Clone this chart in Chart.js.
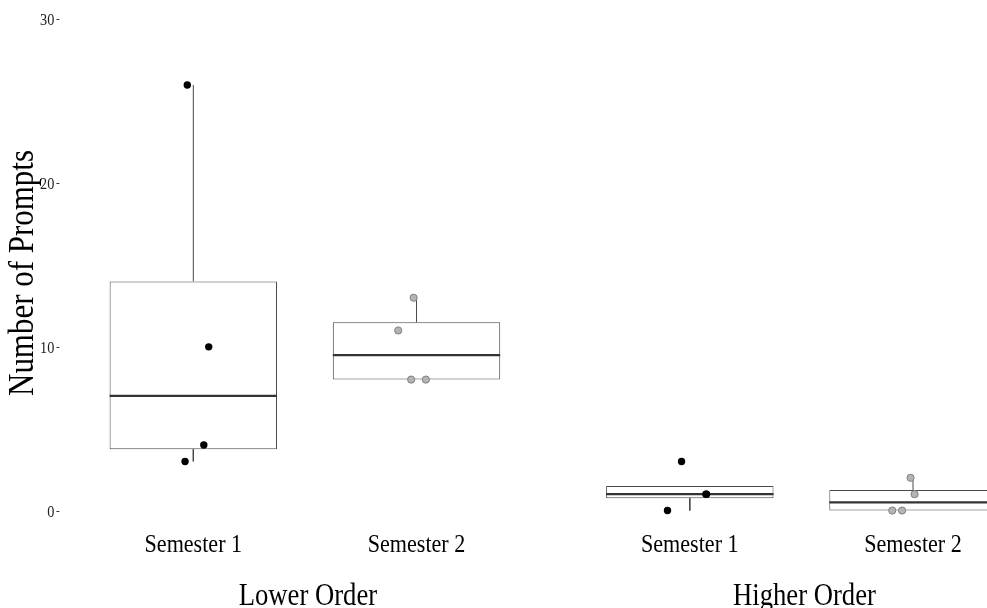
<!DOCTYPE html>
<html>
<head>
<meta charset="utf-8">
<script src="https://cdn.jsdelivr.net/npm/chart.js@4.4.1/dist/chart.umd.min.js"></script>
<style>
  html, body { margin: 0; padding: 0; background: #ffffff; overflow: hidden; }
  canvas { display: block; }
</style>
</head>
<body>
<canvas id="chart" width="987" height="608"></canvas>
<script>
// ---- data ----
const groups = ['Lower Order', 'Higher Order'];
const semesters = ['Semester 1', 'Semester 2'];
// box positions on the x axis (category units; the second panel follows a small gap)
const positions = [1, 2, 3.2245, 4.2245];
const boxGroup = [0, 0, 1, 1];
const boxSemester = [0, 1, 0, 1];

// observed prompt counts per box
const lowerSem1 = [26, 10, 4, 3];
const lowerSem2 = [13, 11, 8, 8];
const higherSem1 = [3, 1, 1, 0];
const higherSem2 = [2, 1, 0, 0];

// horizontal jitter of each observation (category units)
const lowerSem1Jitter = [-0.027, 0.069, 0.047, -0.037];
const lowerSem2Jitter = [-0.013, -0.082, -0.024, 0.042];
const higherSem1Jitter = [-0.037, 0.075, 0.072, -0.1];
const higherSem2Jitter = [-0.011, 0.007, -0.093, -0.049];

const yTicks = [0, 10, 20, 30];
const yTitle = 'Number of Prompts';

const boxValues = [lowerSem1, lowerSem2, higherSem1, higherSem2];
const boxJitter = [lowerSem1Jitter, lowerSem2Jitter, higherSem1Jitter, higherSem2Jitter];

// ---- box statistics (quantile type 7, Tukey whiskers) ----
function quantile(sorted, p) {
  const h = (sorted.length - 1) * p;
  const lo = Math.floor(h), hi = Math.ceil(h);
  return sorted[lo] + (h - lo) * (sorted[hi] - sorted[lo]);
}
function boxStats(values) {
  const s = values.slice().sort((a, b) => a - b);
  const q1 = quantile(s, 0.25), med = quantile(s, 0.5), q3 = quantile(s, 0.75);
  const iqr = q3 - q1;
  const inside = s.filter(v => v >= q1 - 1.5 * iqr && v <= q3 + 1.5 * iqr);
  return { q1, med, q3, lo: inside[0], hi: inside[inside.length - 1] };
}
const stats = boxValues.map(boxStats);
const halfWidth = 0.375;

// ---- derived datasets ----
const boxData = stats.map((st, i) => ({ x: positions[i], y: [st.q1, st.q3] }));

const medianData = [];
stats.forEach((st, i) => {
  medianData.push({ x: positions[i] - halfWidth, y: st.med });
  medianData.push({ x: positions[i] + halfWidth, y: st.med });
  medianData.push({ x: positions[i], y: null });
});

// whiskers run outward from the box edges only
const whiskerData = [];
stats.forEach((st, i) => {
  if (st.hi > st.q3) {
    whiskerData.push({ x: positions[i], y: st.q3 });
    whiskerData.push({ x: positions[i], y: st.hi });
    whiskerData.push({ x: positions[i], y: null });
  }
  if (st.lo < st.q1) {
    whiskerData.push({ x: positions[i], y: st.q1 });
    whiskerData.push({ x: positions[i], y: st.lo });
    whiskerData.push({ x: positions[i], y: null });
  }
});

function pointsFor(sem) {
  const out = [];
  boxValues.forEach((vals, i) => {
    if (boxSemester[i] !== sem) return;
    vals.forEach((v, j) => out.push({ x: positions[i] + boxJitter[i][j], y: v }));
  });
  return out;
}

// ---- text drawn in a narrow serif face ----
const SERIF = '"Liberation Serif", "Times New Roman", serif';
function narrowText(ctx, text, x, y, size, align, sx, rotate) {
  ctx.save();
  ctx.translate(x, y);
  if (rotate) ctx.rotate(-Math.PI / 2);
  ctx.scale(sx, 1);
  ctx.font = size + 'px ' + SERIF;
  ctx.textAlign = align;
  ctx.textBaseline = 'alphabetic';
  ctx.fillText(text, 0, 0);
  ctx.restore();
}

const axisText = {
  id: 'axisText',
  afterDraw(chart) {
    const ctx = chart.ctx;
    const xs = chart.scales.x, ys = chart.scales.y;
    const left = chart.chartArea.left;
    ctx.save();
    // y ticks and tick marks
    ctx.strokeStyle = '#333333';
    ctx.lineWidth = 1;
    ctx.fillStyle = '#222222';
    yTicks.forEach(t => {
      const py = ys.getPixelForValue(t);
      ctx.beginPath();
      ctx.moveTo(left - 3, Math.round(py) + 0.5);
      ctx.lineTo(left, Math.round(py) + 0.5);
      ctx.stroke();
      narrowText(ctx, String(t), left - 5, py + 6, 17, 'right', 0.84, false);
    });
    // semester labels
    ctx.fillStyle = '#000000';
    positions.forEach((p, i) => {
      narrowText(ctx, semesters[boxSemester[i]], xs.getPixelForValue(p), 552, 26, 'center', 0.85, false);
    });
    // group labels, centred under each panel
    groups.forEach((g, gi) => {
      const ps = positions.filter((p, i) => boxGroup[i] === gi);
      const mid = (Math.min(...ps) + Math.max(...ps)) / 2;
      narrowText(ctx, g, xs.getPixelForValue(mid) + 3, 605, 31, 'center', 0.86, false);
    });
    // y axis title
    narrowText(ctx, yTitle, 33, 273, 36, 'center', 0.86, true);
    ctx.restore();
  }
};

new Chart(document.getElementById('chart'), {
  type: 'bar',
  data: {
    datasets: [
      {
        type: 'scatter',
        data: pointsFor(0),
        backgroundColor: '#000000',
        borderColor: '#000000',
        borderWidth: 0,
        pointRadius: 3.7,
        pointHoverRadius: 3.7
      },
      {
        type: 'scatter',
        data: pointsFor(1),
        backgroundColor: '#b4b4b4',
        borderColor: '#808080',
        borderWidth: 1,
        pointRadius: 3.6,
        pointHoverRadius: 3.6
      },
      {
        type: 'line',
        data: medianData,
        borderColor: '#333333',
        borderWidth: 2.2,
        pointRadius: 0,
        spanGaps: false,
        fill: false
      },
      {
        type: 'bar',
        data: boxData,
        backgroundColor: '#ffffff',
        borderColor: '#4a4a4a',
        borderWidth: 1,
        borderSkipped: false,
        barPercentage: 0.75,
        categoryPercentage: 1,
        grouped: false
      },
      {
        type: 'line',
        data: whiskerData,
        borderColor: '#4a4a4a',
        borderWidth: 1,
        pointRadius: 0,
        spanGaps: false,
        fill: false
      }
    ]
  },
  options: {
    responsive: false,
    animation: false,
    devicePixelRatio: 1,
    layout: { autoPadding: false, padding: { left: 59.4, right: 0, top: 0, bottom: 77 } },
    plugins: { legend: { display: false }, tooltip: { enabled: false } },
    events: [],
    scales: {
      x: {
        type: 'linear',
        display: false,
        offset: false,
        min: 0.4,
        max: 4.556,
        afterBuildTicks: scale => { scale.ticks = positions.map(v => ({ value: v })); }
      },
      y: {
        type: 'linear',
        display: false,
        beginAtZero: false,
        min: -1.25,
        max: 31.19
      }
    }
  },
  plugins: [axisText]
});
</script>
</body>
</html>
